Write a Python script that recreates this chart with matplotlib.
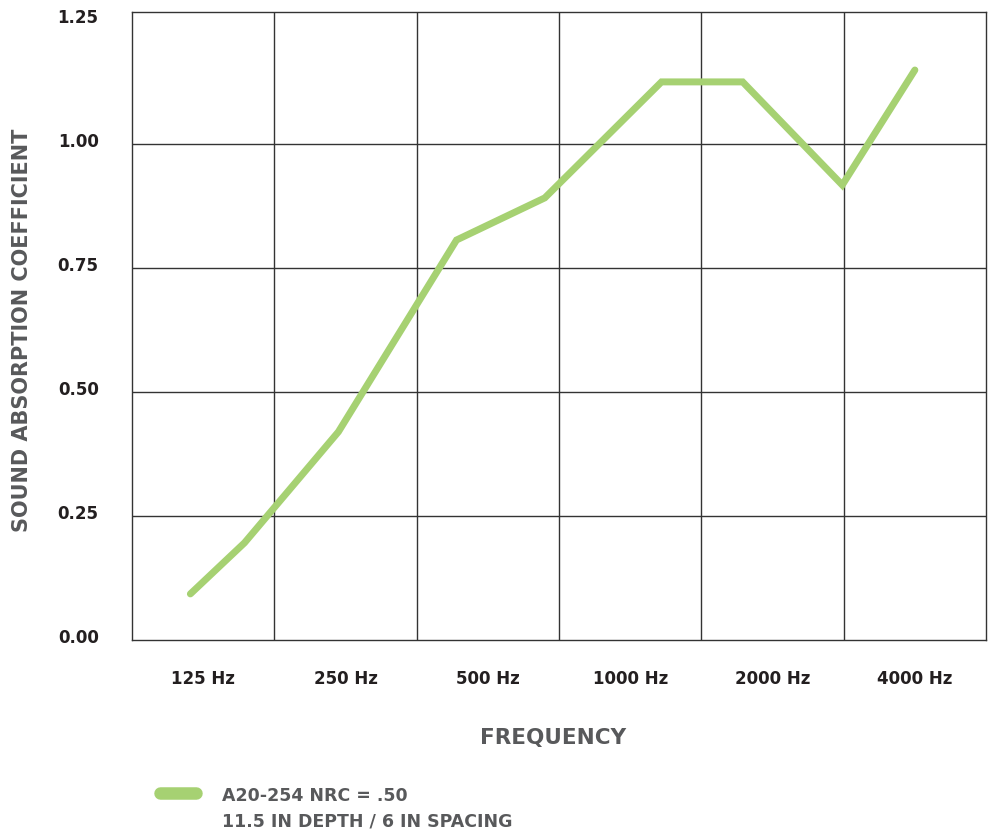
import matplotlib.pyplot as plt
from matplotlib.lines import Line2D
from matplotlib.transforms import ScaledTranslation

# --------------------------
# data
# --------------------------
freq_labels = ["125 Hz", "250 Hz", "500 Hz", "1000 Hz", "2000 Hz", "4000 Hz"]
y_ticks = [0.0, 0.25, 0.50, 0.75, 1.00, 1.25]

# line vertices (x in category units, 0..6)
curve_x = [0.41, 0.79, 1.45, 2.28, 2.90, 3.72, 4.29, 4.99, 5.50]
curve_y = [0.092, 0.195, 0.419, 0.806, 0.891, 1.125, 1.125, 0.917, 1.149]

series_name = "A20-254 NRC = .50"
series_note = "11.5 IN DEPTH / 6 IN SPACING"

green = "#a6d172"
dark = "#231f20"
grey = "#58595b"

plt.rcParams['font.family'] = ['DejaVu Sans']

fig = plt.figure(figsize=(9.91, 8.34), dpi=100)
ax = fig.add_axes([0.1332, 0.2332, 0.8618, 0.7524])

ax.plot(curve_x, curve_y, color=green, lw=5, solid_capstyle='round',
        solid_joinstyle='miter', zorder=3)

ax.set_xlim(0, 6)
ax.set_ylim(0, 1.266)

# grid
for gx in range(1, 6):
    ax.axvline(gx, color="#333333", lw=1.0, zorder=1)
for gy in y_ticks[1:5]:
    ax.axhline(gy, color="#333333", lw=1.0, zorder=1)
for s in ax.spines.values():
    s.set_color("#333333")
    s.set_linewidth(1.0)

ax.set_xticks([i + 0.5 for i in range(6)])
ax.set_xticklabels(freq_labels, fontsize=12, fontweight='bold', color=dark)
ax.set_yticks(y_ticks)
ax.set_yticklabels([f"{v:.2f}" for v in y_ticks], fontsize=12,
                   fontweight='bold', color=dark)
ax.tick_params(axis='x', length=0, pad=22)
ax.tick_params(axis='y', length=0, pad=24)
for lab in ax.get_yticklabels():
    lab.set_transform(lab.get_transform() + ScaledTranslation(0, 4 / 100, fig.dpi_scale_trans))

ax.set_xlabel("FREQUENCY", fontsize=15.5, fontweight='bold', color=grey, va='center')
ax.xaxis.set_label_coords(0.493, -0.157)
ax.set_ylabel("SOUND ABSORPTION COEFFICIENT", fontsize=15, fontweight='bold',
              color=grey, va='center')
ax.yaxis.set_label_coords(-0.129, 0.493)

# legend
fig.add_artist(Line2D([160 / 991, 196 / 991], [1 - 793 / 834, 1 - 793 / 834],
                      color=green, lw=9, solid_capstyle='round'))
fig.text(222 / 991, 1 - 796 / 834, series_name, fontsize=12.5, fontweight='bold',
         color=grey, va='center', ha='left')
fig.text(222 / 991, 1 - 822 / 834, series_note, fontsize=12.5, fontweight='bold',
         color=grey, va='center', ha='left')

plt.savefig("out.png", dpi=100)
